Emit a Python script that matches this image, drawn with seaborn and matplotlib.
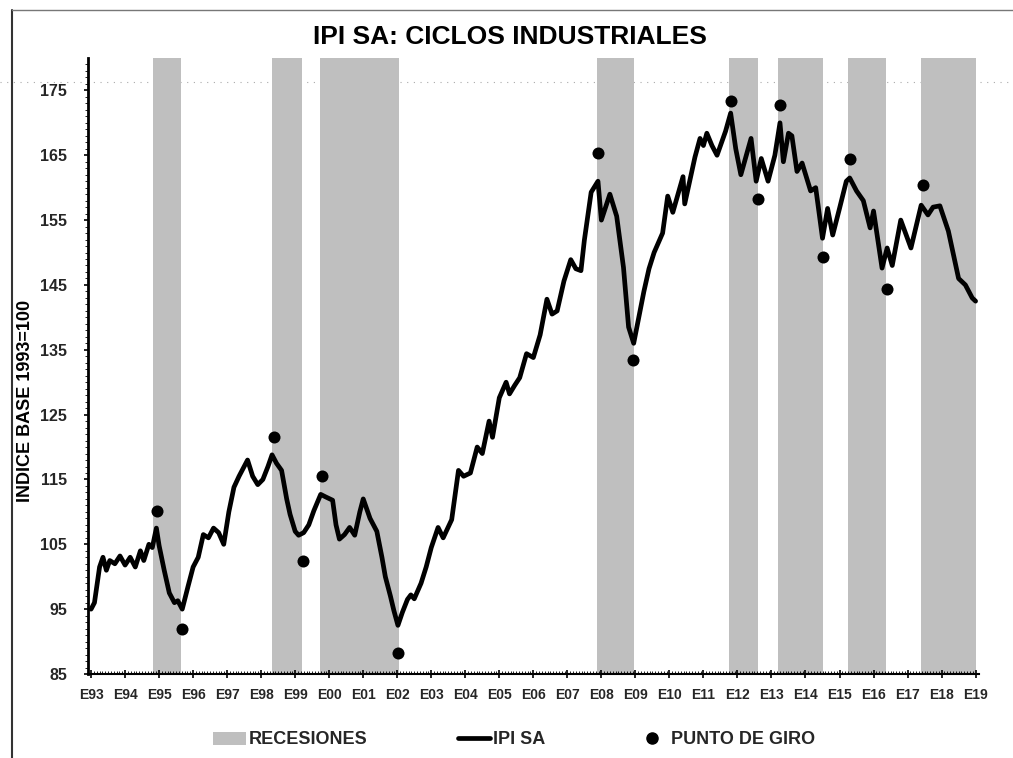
import matplotlib
matplotlib.use("Agg")
import matplotlib.pyplot as plt
from matplotlib import font_manager
from matplotlib.patches import Patch
from matplotlib.lines import Line2D
import seaborn as sns
import pandas as pd

# ---------------- data ----------------
ipi_dates = [
    1993.0, 1993.1, 1993.25, 1993.35, 1993.45, 1993.55, 1993.7, 1993.85, 1994.0, 1994.15,
    1994.3, 1994.45, 1994.55, 1994.7, 1994.8, 1994.92, 1995.0, 1995.15, 1995.3, 1995.45,
    1995.55, 1995.68, 1995.85, 1996.0, 1996.15, 1996.3, 1996.45, 1996.6, 1996.75, 1996.9,
    1997.05, 1997.2, 1997.35, 1997.5, 1997.6, 1997.75, 1997.9, 1998.05, 1998.2, 1998.32,
    1998.45, 1998.6, 1998.75, 1998.85, 1999.0, 1999.1, 1999.25, 1999.4, 1999.55, 1999.75,
    1999.9, 2000.1, 2000.2, 2000.3, 2000.45, 2000.6, 2000.75, 2000.9, 2001.0, 2001.2,
    2001.4, 2001.55, 2001.65, 2001.8, 2001.9, 2002.02, 2002.15, 2002.3, 2002.4, 2002.5,
    2002.7, 2002.85, 2003.0, 2003.2, 2003.35, 2003.6, 2003.8, 2003.95, 2004.15, 2004.35,
    2004.5, 2004.7, 2004.8, 2005.0, 2005.2, 2005.3, 2005.45, 2005.6, 2005.8, 2006.0,
    2006.2, 2006.4, 2006.55, 2006.7, 2006.9, 2007.1, 2007.25, 2007.4, 2007.5, 2007.7,
    2007.9, 2008.0, 2008.25, 2008.45, 2008.65, 2008.8, 2008.95, 2009.1, 2009.25, 2009.4,
    2009.55, 2009.8, 2009.95, 2010.1, 2010.4, 2010.45, 2010.75, 2010.9, 2011.0, 2011.1,
    2011.25, 2011.4, 2011.65, 2011.8, 2011.95, 2012.1, 2012.4, 2012.55, 2012.7, 2012.9,
    2013.1, 2013.25, 2013.35, 2013.5, 2013.6, 2013.75, 2013.9, 2014.15, 2014.3, 2014.5,
    2014.65, 2014.8, 2015.0, 2015.2, 2015.3, 2015.5, 2015.7, 2015.9, 2016.0, 2016.25,
    2016.4, 2016.55, 2016.8, 2017.1, 2017.4, 2017.6, 2017.75, 2017.95, 2018.2, 2018.5,
    2018.7, 2018.9, 2019.0,
]
ipi_values = [
    95.0, 96.0, 101.5, 103.0, 101.0, 102.5, 102.0, 103.2, 101.8, 103.0,
    101.5, 104.0, 102.5, 105.0, 104.5, 107.5, 104.8, 101.0, 97.5, 96.0,
    96.3, 95.0, 98.5, 101.5, 103.0, 106.5, 106.0, 107.5, 106.8, 105.0,
    110.0, 113.8, 115.5, 117.0, 118.0, 115.5, 114.2, 115.0, 117.0, 118.8,
    117.5, 116.4, 112.0, 109.6, 107.0, 106.4, 106.8, 108.0, 110.2, 112.7,
    112.3, 111.8, 108.0, 105.8, 106.5, 107.6, 106.4, 110.0, 112.0, 109.0,
    107.0, 103.0, 100.0, 97.0, 94.8, 92.5, 94.5, 96.5, 97.2, 96.6,
    99.0, 101.5, 104.5, 107.6, 106.0, 108.8, 116.4, 115.5, 116.0, 120.0,
    119.0, 124.0, 121.5, 127.6, 130.0, 128.2, 129.5, 130.7, 134.4, 133.8,
    137.3, 142.8, 140.5, 141.0, 145.6, 148.9, 147.5, 147.2, 151.9, 159.3,
    161.0, 155.0, 159.0, 155.6, 147.7, 138.5, 136.0, 140.0, 144.0, 147.5,
    150.0, 153.0, 158.7, 156.2, 161.7, 157.5, 164.7, 167.6, 166.5, 168.4,
    166.5, 165.0, 168.7, 171.5, 166.0, 162.0, 167.6, 161.0, 164.5, 161.0,
    165.0, 170.0, 164.0, 168.4, 168.0, 162.5, 163.8, 159.5, 160.0, 152.2,
    156.8, 152.7, 156.8, 161.0, 161.5, 159.5, 158.0, 153.8, 156.4, 147.6,
    150.7, 148.0, 155.0, 150.7, 157.3, 155.8, 157.0, 157.2, 153.3, 146.0,
    145.0, 143.0, 142.5,
]

recession_starts = [1994.82, 1998.31, 1999.74, 2007.88, 2011.76, 2013.20, 2015.26, 2017.40]
recession_ends = [1995.65, 1999.20, 2002.06, 2008.97, 2012.60, 2014.50, 2016.38, 2019.00]

turn_dates = [1994.94, 1995.68, 1998.38, 1999.24, 1999.80, 2002.03, 2007.90, 2008.94,
              2011.80, 2012.60, 2013.24, 2014.50, 2015.30, 2016.40, 2017.44]
turn_values = [110.2, 92.0, 121.5, 102.4, 115.6, 88.2, 165.3, 133.4,
               173.4, 158.3, 172.7, 149.3, 164.5, 144.4, 160.4]

year_ticks = list(range(1993, 2020))
year_labels = ["E%02d" % (y % 100) for y in year_ticks]
y_ticks = [85, 95, 105, 115, 125, 135, 145, 155, 165, 175]

title_text = "IPI SA: CICLOS INDUSTRIALES"
ylabel_text = "INDICE BASE 1993=100"
legend_labels = ["RECESIONES", "IPI SA", "PUNTO DE GIRO"]

# ---------------- styling ----------------
sns.set_theme(style="white")
available = {f.name for f in font_manager.fontManager.ttflist}
base_font = "Liberation Sans" if "Liberation Sans" in available else "DejaVu Sans"
plt.rcParams["font.family"] = [base_font, "DejaVu Sans"]
plt.rcParams["font.weight"] = "bold"

band_color = "#bfbfbf"

fig = plt.figure(figsize=(10.13, 7.58), dpi=100)
ax = fig.add_axes([88 / 1013, 1 - 674 / 758, 891 / 1013, 616 / 758])
ax.patch.set_alpha(0)

for s, e in zip(recession_starts, recession_ends):
    ax.axvspan(s, e, color=band_color, lw=0, zorder=0)

line_df = pd.DataFrame({"fecha": ipi_dates, "ipi": ipi_values})
turn_df = pd.DataFrame({"fecha": turn_dates, "giro": turn_values})

sns.lineplot(data=line_df, x="fecha", y="ipi", ax=ax, color="black", lw=3.4, zorder=3)
sns.scatterplot(data=turn_df, x="fecha", y="giro", ax=ax, color="black", s=75,
                edgecolor="black", linewidth=0, zorder=4)

ax.set_xlim(1992.91, 2019.1)
ax.set_ylim(85, 180)
ax.set_xticks(year_ticks)
ax.set_xticklabels(year_labels, fontsize=10, fontweight="bold")
ax.set_yticks(y_ticks)
ax.set_yticklabels([str(v) for v in y_ticks], fontsize=11.5, fontweight="bold")
ax.set_xticks([y + m / 12 for y in range(1993, 2019) for m in range(1, 12)], minor=True)
ax.set_yticks([v for v in range(86, 180) if v not in y_ticks], minor=True)

ax.tick_params(axis="x", which="major", direction="inout", length=6, width=1.2,
               color="black", pad=7, bottom=True)
ax.tick_params(axis="x", which="minor", direction="in", length=2, width=0.6,
               color="black", bottom=True)
ax.tick_params(axis="y", which="major", direction="out", length=3, width=1.2,
               color="black", pad=12, left=True)
ax.tick_params(axis="y", which="minor", direction="out", length=2, width=0.6,
               color="black", left=True)

ax.set_xlabel("")
ax.set_ylabel("")
for side in ["top", "right"]:
    ax.spines[side].set_visible(False)
ax.spines["left"].set_color("black")
ax.spines["left"].set_linewidth(2.0)
ax.spines["bottom"].set_color("black")
ax.spines["bottom"].set_linewidth(1.5)
ax.grid(False)

fig.text(510 / 1013, 1 - 37 / 758, title_text, ha="center", va="center",
         fontsize=19, fontweight="bold", color="black")
fig.text(26 / 1013, 1 - 401 / 758, ylabel_text, ha="center", va="center",
         rotation=90, fontsize=13, fontweight="bold", color="black")

# faint scan lines (frame of the scanned page)
fig.add_artist(Line2D([12 / 1013, 12 / 1013], [0, 1 - 10 / 758], transform=fig.transFigure,
                      color="#333333", lw=1.5))
fig.add_artist(Line2D([12 / 1013, 1], [1 - 10 / 758, 1 - 10 / 758], transform=fig.transFigure,
                      color="#777777", lw=1.0))
fig.add_artist(Line2D([0, 1], [1 - 82 / 758, 1 - 82 / 758], transform=fig.transFigure,
                      color="#aaaaaa", lw=0.8, linestyle=(0, (1, 5)), zorder=0))

handles = [
    Patch(facecolor=band_color, edgecolor="none"),
    Line2D([0], [0], color="black", lw=3.4),
    Line2D([0], [0], color="black", lw=0, marker="o", markersize=8),
]
fig.legend(handles, legend_labels, loc="center", bbox_to_anchor=(514 / 1013, 1 - 740 / 758),
           ncol=3, frameon=False, prop={"size": 13, "weight": "bold"},
           handlelength=1.8, handletextpad=0.15, columnspacing=5.0)

fig.savefig("out.png", dpi=100)
